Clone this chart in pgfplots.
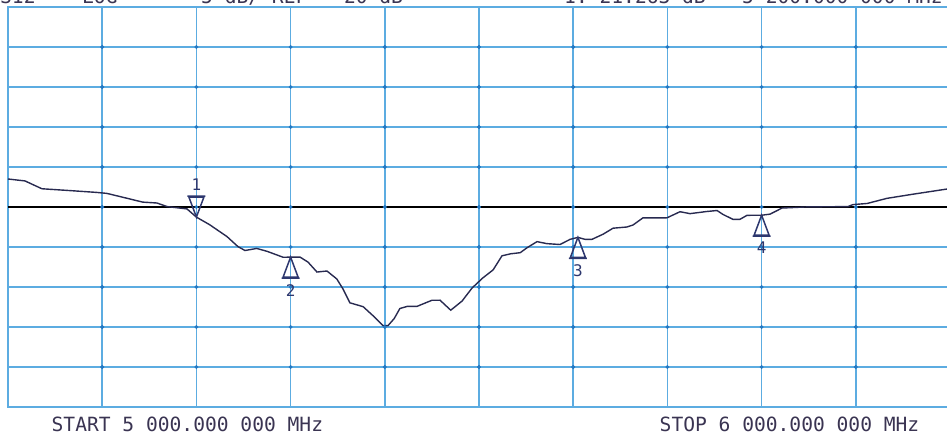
\documentclass[border=0pt]{standalone}
\usepackage{pgfplots}
\pgfplotsset{compat=1.18}
\usepackage{fontspec}
\newfontfamily\inst{DejaVu Sans Mono}
\definecolor{gridblue}{RGB}{92,172,225}
\definecolor{dotblue}{RGB}{35,120,195}
\definecolor{trace}{RGB}{40,42,80}
\definecolor{txt}{RGB}{58,52,82}
\definecolor{mk}{RGB}{45,55,110}

\newcommand\defup[2]{%
\pgfdeclareplotmark{#1}{%
\pgfpathmoveto{\pgfpointorigin}%
\pgfpathlineto{\pgfpoint{-7.5bp}{-20bp}}%
\pgfpathlineto{\pgfpoint{7.5bp}{-20bp}}%
\pgfpathclose
\pgfpathmoveto{\pgfpoint{-9bp}{-21bp}}%
\pgfpathlineto{\pgfpoint{9bp}{-21bp}}%
\pgfusepath{stroke}%
\pgftext[top,at={\pgfpoint{0bp}{-27bp}}]{\color{mk}\fontsize{16bp}{16bp}\inst #2}}}
\newcommand\defdown[2]{%
\pgfdeclareplotmark{#1}{%
\pgfpathmoveto{\pgfpointorigin}%
\pgfpathlineto{\pgfpoint{-7.5bp}{20bp}}%
\pgfpathlineto{\pgfpoint{7.5bp}{20bp}}%
\pgfpathclose
\pgfpathmoveto{\pgfpoint{-9bp}{21bp}}%
\pgfpathlineto{\pgfpoint{9bp}{21bp}}%
\pgfusepath{stroke}%
\pgftext[bottom,at={\pgfpoint{0bp}{27bp}}]{\color{mk}\fontsize{16bp}{16bp}\inst #2}}}
\defdown{mkA}{1}
\defup{mkB}{2}
\defup{mkC}{3}
\defup{mkD}{4}

\begin{document}
\begin{tikzpicture}
\begin{axis}[
  scale only axis, width=942bp, height=400bp,
  xmin=5000, xmax=6000, ymin=-45, ymax=5,
  xtick={5000,5100,...,6000}, ytick={-45,-40,...,5},
  xticklabel={\relax}, yticklabel={\relax},
  major tick length=0pt,
  grid=major,
  grid style={gridblue, line width=1.5bp},
  axis line style={gridblue, line width=1.8bp},
  clip=false,
]
\coordinate (sw) at (rel axis cs:0,0);
\coordinate (se) at (rel axis cs:1,0);
\coordinate (nw) at (rel axis cs:0,1);
\coordinate (ne) at (rel axis cs:1,1);
% graticule dots at the grid intersections
\pgfplotsinvokeforeach{-40,-35,...,0}{
\addplot[only marks, mark=*, mark size=1.8bp, dotblue, forget plot] coordinates {
(5100,#1) (5200,#1) (5300,#1) (5400,#1) (5500,#1) (5600,#1) (5700,#1) (5800,#1) (5900,#1)};
}
\addplot[black, line width=1.7bp] coordinates {(5000,-20) (6000,-20)};
\addplot[trace, line width=1.4bp] coordinates {
(5000,-16.5) (5018,-16.74) (5036,-17.72) (5066,-17.95) (5094.5,-18.18)
(5105,-18.30) (5126,-18.90) (5143,-19.39) (5158,-19.50) (5169,-19.95)
(5190,-20.24) (5200,-21.263) (5214,-22.21) (5232.5,-23.70) (5244,-24.94)
(5251.6,-25.44) (5264,-25.18) (5275,-25.54) (5292,-26.28) (5300,-26.27)
(5310,-26.26) (5318.5,-26.89) (5328,-28.13) (5338.6,-28.0) (5349,-28.99)
(5355.6,-30.24) (5363,-31.98) (5377,-32.46) (5387.5,-33.59) (5398,-34.83)
(5403.4,-34.83) (5410,-33.94) (5416,-32.69) (5423.6,-32.43) (5434,-32.43)
(5450,-31.66) (5458.6,-31.65) (5470,-32.90) (5482,-31.76) (5492.6,-30.13)
(5504,-28.87) (5515,-27.86) (5524.4,-26.10) (5533.6,-25.85) (5543.8,-25.71)
(5551,-25.09) (5561.6,-24.33) (5572,-24.58) (5586,-24.69) (5596.6,-24.05)
(5605,-23.8) (5612.5,-24.04) (5620,-24.04) (5631.7,-23.40) (5642.3,-22.65)
(5657,-22.5) (5663.5,-22.25) (5674,-21.36) (5699.6,-21.35) (5713.4,-20.59)
(5724,-20.83) (5742,-20.56) (5752.7,-20.44) (5759,-20.93) (5769.7,-21.55)
(5777,-21.54) (5784.5,-21.04) (5800,-21.03) (5809,-20.89) (5821.7,-20.13)
(5848,-19.99) (5891.7,-19.95) (5897,-19.70) (5912,-19.56) (5933,-18.92)
(5960.7,-18.40) (5997,-17.75) (6000,-17.7)};
\addplot[only marks, mark=mkA, mark options={draw=mk, line width=1.5bp}] coordinates {(5200,-21.263)};
\addplot[only marks, mark=mkB, mark options={draw=mk, line width=1.5bp}] coordinates {(5300,-26.27)};
\addplot[only marks, mark=mkC, mark options={draw=mk, line width=1.5bp}] coordinates {(5605,-23.8)};
\addplot[only marks, mark=mkD, mark options={draw=mk, line width=1.5bp}] coordinates {(5800,-21.03)};
\end{axis}
\begin{scope}[every node/.style={inner sep=0pt, text=txt, font=\fontsize{19.6bp}{20bp}\inst}]
\node[anchor=base west] at ([shift={(-8bp,3bp)}]nw) {S12};
\node[anchor=base west] at ([shift={(74bp,3bp)}]nw) {LOG};
\node[anchor=base west] at ([shift={(193bp,3bp)}]nw) {5 dB/ REF};
\node[anchor=base west] at ([shift={(324bp,3bp)}]nw) {-20 dB};
\node[anchor=base west] at ([shift={(556bp,3bp)}]nw) {1:-21.263 dB};
\node[anchor=base east] at ([shift={(-7bp,3bp)}]ne) {5 200.000 000 MHz};
\node[anchor=base west] at ([shift={(43.5bp,-24bp)}]sw) {START 5 000.000 000 MHz};
\node[anchor=base east] at ([shift={(-30.5bp,-24bp)}]se) {STOP 6 000.000 000 MHz};
\end{scope}
\pgfresetboundingbox
\useasboundingbox ([shift={(-8bp,-32bp)}]sw) rectangle ([shift={(-3bp,7bp)}]ne);
\end{tikzpicture}
\end{document}
